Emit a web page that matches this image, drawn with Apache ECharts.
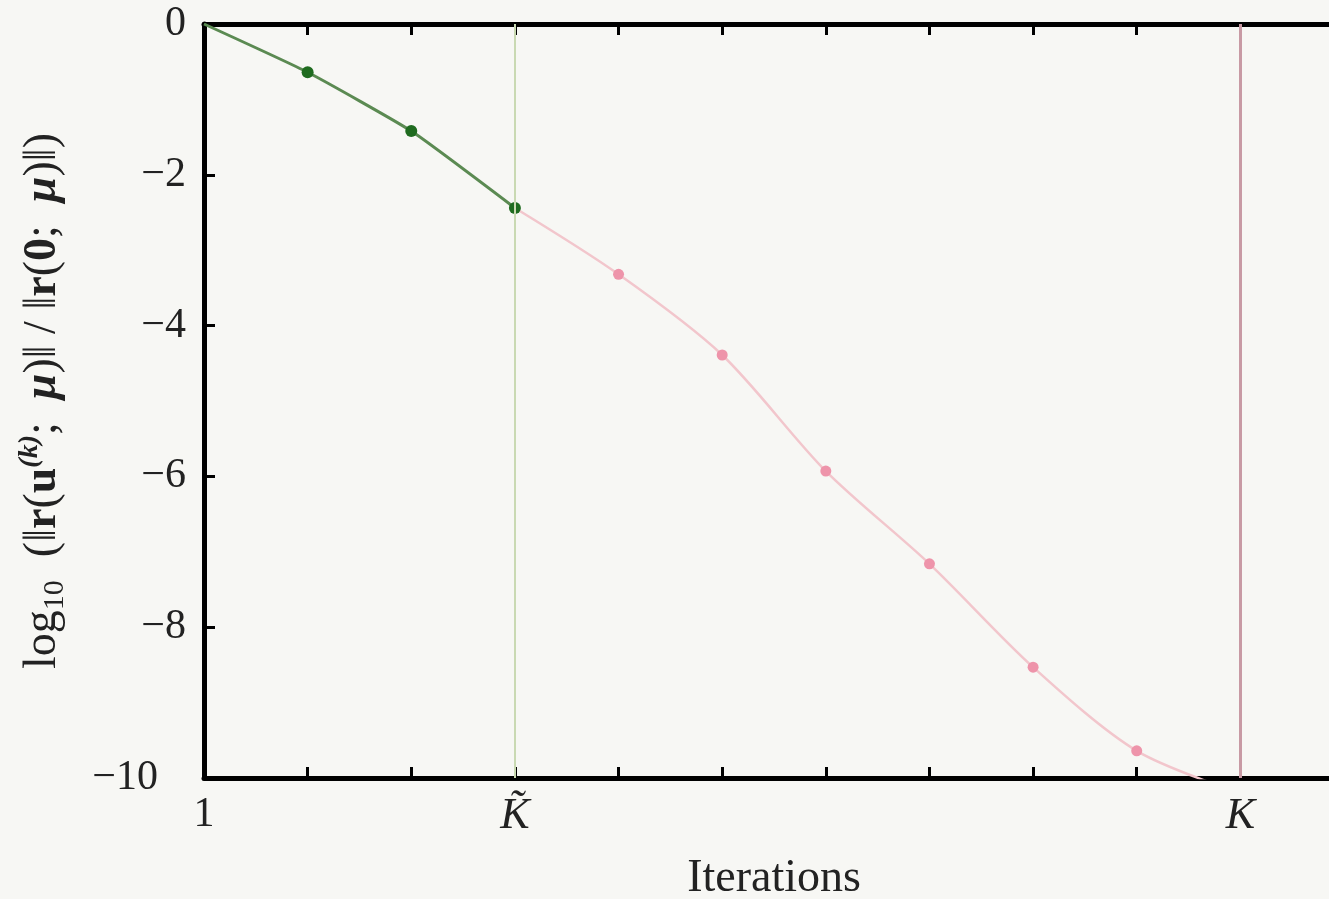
<!DOCTYPE html>
<html>
<head>
<meta charset="utf-8">
<script src="https://cdn.jsdelivr.net/npm/echarts@6/dist/echarts.min.js"></script>
<style>
  html, body { margin: 0; padding: 0; background: #f7f7f4; overflow: hidden; }
  #chart { width: 1352px; height: 899px; }
</style>
</head>
<body>
<div id="chart"></div>
<script>
// iterations and log10 relative residuals
const greenIter = [1, 2, 3, 4];
const greenVals = [0, -0.64, -1.42, -2.44];
const pinkIter = [4, 5, 6, 7, 8, 9, 10, 11];
const pinkVals = [-2.44, -3.32, -4.39, -5.93, -7.16, -8.53, -9.64, -10.2];
const kTilde = 4;
const kFull = 11;

const serif = '"Liberation Serif", "DejaVu Serif", serif';
const ink = '#222';

let chartElement = document.getElementById('chart');
let chart = echarts.init(chartElement);

function pairs(xs, ys, hideFirst, hideLast) {
    let out = [];
    for (let i = 0; i < xs.length; i++) {
        let item = { value: [xs[i], ys[i]] };
        if ((hideFirst && i === 0) || (hideLast && i === xs.length - 1)) {
            item.symbol = 'none';
        }
        out.push(item);
    }
    return out;
}

let yName = '{n|log}{s|10}{n|  (\u2016}{b|r}{n|(}{b|u}{p|(k)}{n|;  }{bi|\u03bc}{n|)\u2016 / \u2016}'
    + '{b|r}{n|(}{b|0}{n|;  }{bi|\u03bc}{n|)\u2016)}';

let option = {
    backgroundColor: '#f7f7f4',
    animation: false,
    grid: { left: 204, top: 24, bottom: 121, right: 8, outerBoundsMode: 'none' },
    xAxis: [
        {
            type: 'value',
            min: 1,
            max: 12,
            interval: 1,
            name: 'Iterations',
            nameLocation: 'middle',
            nameGap: 78,
            nameTextStyle: { fontFamily: serif, fontSize: 46, color: ink },
            axisLine: { onZero: false, lineStyle: { color: '#000', width: 5 } },
            axisTick: { inside: true, length: 11, lineStyle: { color: '#000', width: 3 } },
            splitLine: { show: false },
            axisLabel: {
                margin: 16,
                fontFamily: serif,
                fontSize: 42,
                color: ink,
                formatter: function (v) {
                    if (v === 1) return '1';
                    if (v === kTilde) return '{i|K\u0303}';
                    if (v === kFull) return '{i|K}';
                    return '';
                },
                rich: { i: { fontFamily: serif, fontSize: 44, fontStyle: 'italic', color: ink } }
            }
        },
        {
            type: 'value',
            position: 'top',
            min: 1,
            max: 12,
            interval: 1,
            axisLine: { onZero: false, lineStyle: { color: '#000', width: 5 } },
            axisTick: { inside: true, length: 11, lineStyle: { color: '#000', width: 3 } },
            axisLabel: { show: false },
            splitLine: { show: false }
        }
    ],
    yAxis: {
        type: 'value',
        min: -10,
        max: 0,
        interval: 2,
        name: yName,
        nameLocation: 'middle',
        nameRotate: 90,
        nameGap: 134,
        nameTextStyle: {
            fontFamily: serif,
            fontSize: 46,
            color: ink,
            lineHeight: 54,
            rich: {
                n: { fontFamily: serif, fontSize: 46, color: ink, lineHeight: 54 },
                s: { fontFamily: serif, fontSize: 30, color: ink, lineHeight: 54, verticalAlign: 'bottom' },
                p: { fontFamily: serif, fontSize: 28, fontWeight: 'bold', fontStyle: 'italic', color: ink, lineHeight: 54, verticalAlign: 'top' },
                b: { fontFamily: serif, fontSize: 46, fontWeight: 'bold', color: ink, lineHeight: 54 },
                bi: { fontFamily: serif, fontSize: 46, fontWeight: 'bold', fontStyle: 'italic', color: ink, lineHeight: 54 }
            }
        },
        axisLine: { onZero: false, lineStyle: { color: '#000', width: 5 } },
        axisTick: { inside: true, length: 11, lineStyle: { color: '#000', width: 3 } },
        splitLine: { show: false },
        axisLabel: {
            margin: 18,
            fontFamily: serif,
            fontSize: 42,
            color: ink,
            formatter: function (v) {
                if (v === -10) return '{b|\u221210}';
                return v < 0 ? '\u2212' + (-v) : String(v);
            },
            rich: { b: { fontFamily: serif, fontSize: 42, color: ink, padding: [0, 28, 0, 0] } }
        }
    },
    series: [
        {
            name: 'tail',
            type: 'line',
            smooth: 0.3,
            clip: true,
            data: pairs(pinkIter, pinkVals, true, true),
            symbol: 'circle',
            symbolSize: 11,
            itemStyle: { color: '#ee94aa' },
            lineStyle: { color: '#f2c6cc', width: 2.5 },
            z: 3,
            markLine: {
                silent: true,
                symbol: 'none',
                label: { show: false },
                data: [
                    { xAxis: kTilde, lineStyle: { color: '#c9d9b2', width: 2, type: 'solid' } },
                    { xAxis: kFull, lineStyle: { color: '#c89aa4', width: 3, type: 'solid' } }
                ]
            }
        },
        {
            name: 'head',
            type: 'line',
            smooth: 0.15,
            data: pairs(greenIter, greenVals, true, false),
            symbol: 'circle',
            symbolSize: 12,
            itemStyle: { color: '#1f6b1f' },
            lineStyle: { color: '#5b8a52', width: 3 },
            z: 4
        }
    ]
};

chart.setOption(option);
</script>
</body>
</html>
